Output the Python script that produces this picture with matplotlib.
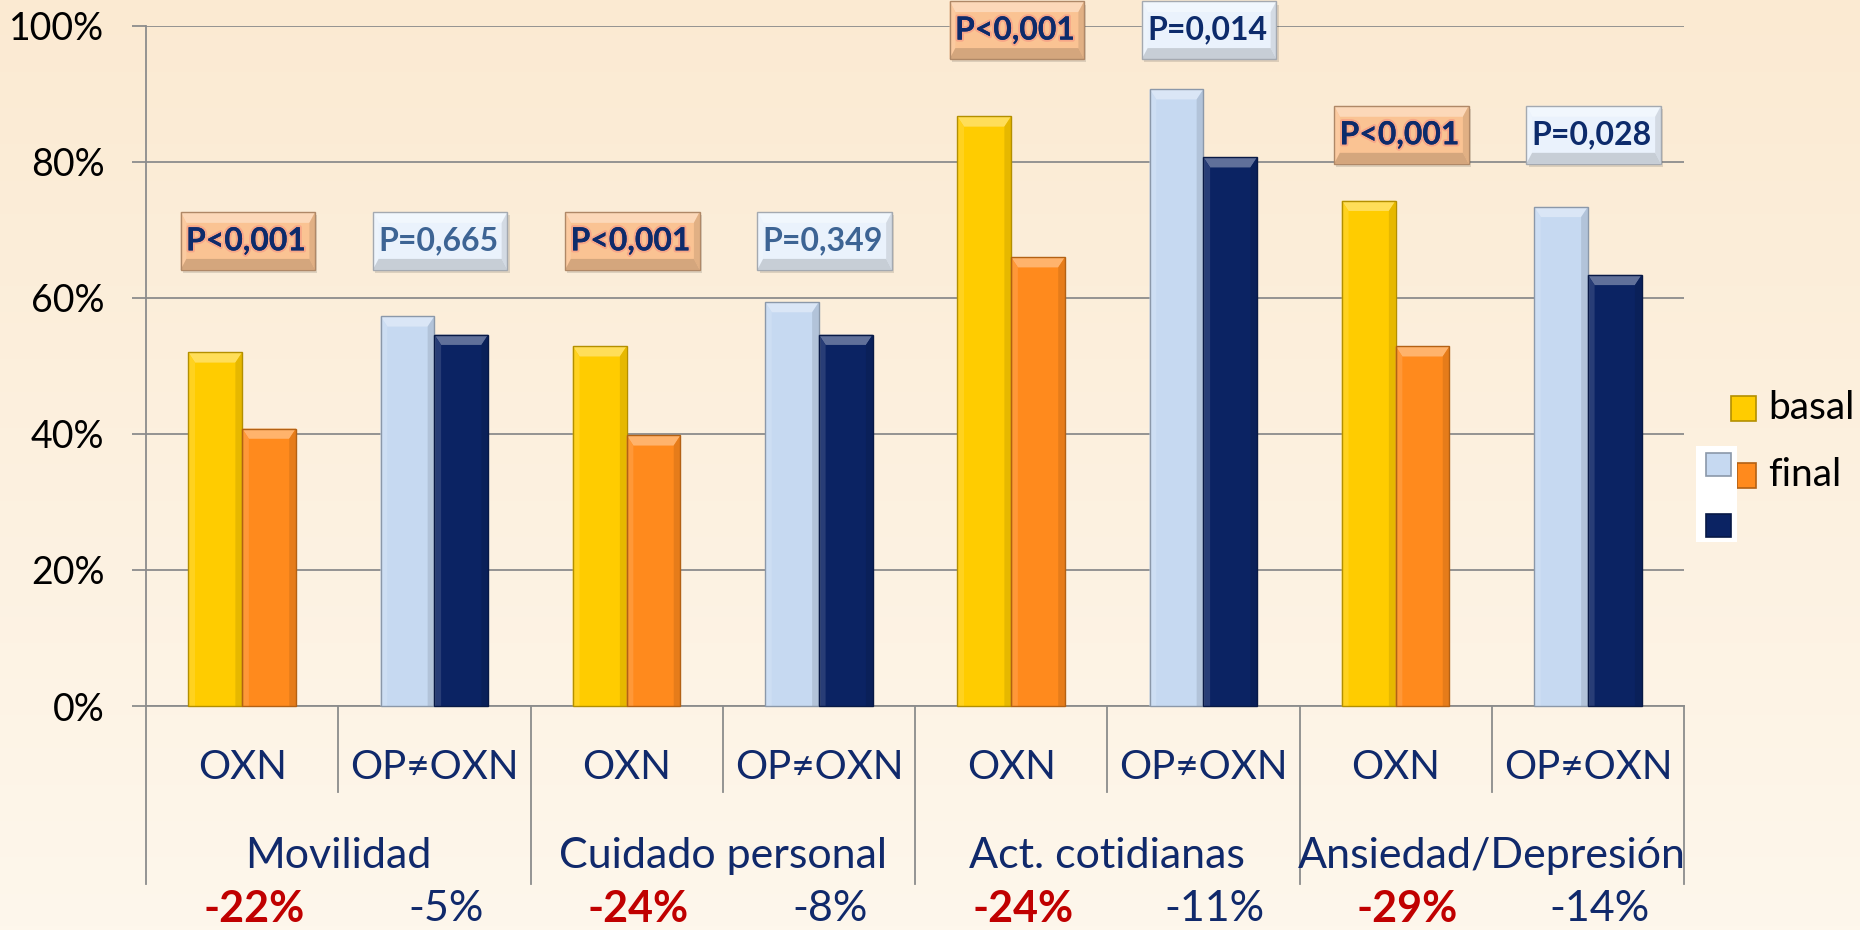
import numpy as np
import matplotlib.pyplot as plt
import matplotlib.colors as mcolors
import matplotlib.patheffects as pe
from matplotlib.patches import Rectangle, Polygon

# data
subgroups = ['OXN', 'OP≠OXN'] * 4
categories = ['Movilidad', 'Cuidado personal', 'Act. cotidianas', 'Ansiedad/Depresión']
basal = [52.0, 57.3, 52.9, 59.4, 86.7, 90.7, 74.3, 73.4]
final = [40.8, 54.6, 39.8, 54.6, 66.0, 80.7, 52.9, 63.4]
changes = ['-22%', '-5%', '-24%', '-8%', '-24%', '-11%', '-29%', '-14%']
p_values = ['P<0,001', 'P=0,665', 'P<0,001', 'P=0,349',
            'P<0,001', 'P=0,014', 'P<0,001', 'P=0,028']
yticks = [0, 20, 40, 60, 80, 100]

# styling
main_font = ['Lato', 'DejaVu Sans']
navy_txt = '#10296B'
red_txt = '#C00000'
grid_c = '#8C8C8C'
oxn_cols = ('#FFCC00', '#FF8A1D')
op_cols = ('#C6D9F1', '#0B2363')
box_y = [68.4, 68.4, 68.4, 68.4, 99.4, 99.4, 84.0, 84.0]


def mix(c, other, t):
    a = np.array(mcolors.to_rgb(c))
    b = np.array(mcolors.to_rgb(other))
    return tuple(a * (1 - t) + b * t)


def bevel_rect(ax, x0, y0, w, h, color, dx, dy, z, bottom=False, edge=None):
    edge = edge or mix(color, 'black', 0.3)
    ax.add_patch(Rectangle((x0, y0), w, h, facecolor=color, lw=0, zorder=z, clip_on=False))
    x1, y1 = x0 + w, y0 + h
    ybot = y0 + dy if bottom else y0
    ax.add_patch(Polygon([(x0, y1), (x1, y1), (x1 - dx, y1 - dy), (x0 + dx, y1 - dy)],
                         closed=True, facecolor=mix(color, 'white', 0.35), lw=0, zorder=z + 0.1, clip_on=False))
    ax.add_patch(Polygon([(x0, y0), (x0, y1), (x0 + dx, y1 - dy), (x0 + dx, ybot)],
                         closed=True, facecolor=mix(color, 'white', 0.12), lw=0, zorder=z + 0.1, clip_on=False))
    ax.add_patch(Polygon([(x1, y0), (x1, y1), (x1 - dx, y1 - dy), (x1 - dx, ybot)],
                         closed=True, facecolor=mix(color, 'black', 0.10), lw=0, zorder=z + 0.1, clip_on=False))
    if bottom:
        ax.add_patch(Polygon([(x0, y0), (x1, y0), (x1 - dx, y0 + dy), (x0 + dx, y0 + dy)],
                             closed=True, facecolor=mix(color, 'black', 0.15), lw=0, zorder=z + 0.1, clip_on=False))
    ax.add_patch(Rectangle((x0, y0), w, h, facecolor='none', edgecolor=edge,
                           lw=1.0, zorder=z + 0.2, clip_on=False))


fig = plt.figure(figsize=(18.6, 9.3), dpi=100)

# background gradient
bg = fig.add_axes([0, 0, 1, 1], zorder=-10)
grad = np.linspace(0, 1, 256).reshape(-1, 1)
cmap = mcolors.LinearSegmentedColormap.from_list('bg', ['#FBEAD2', '#FEF7EC'])
bg.imshow(grad, aspect='auto', cmap=cmap, extent=[0, 1, 0, 1])
bg.axis('off')

ax = fig.add_axes([146 / 1860, 1 - 706 / 930, (1684 - 146) / 1860, 680 / 930])
ax.set_facecolor('none')
ax.set_xlim(-0.5, 7.5)
ax.set_ylim(0, 100)

x = np.arange(len(subgroups))
w = 0.28
for i in range(len(x)):
    cols = oxn_cols if i % 2 == 0 else op_cols
    bevel_rect(ax, x[i] - w, 0, w, basal[i], cols[0], 0.035, 1.5, 3)
    bevel_rect(ax, x[i], 0, w, final[i], cols[1], 0.035, 1.5, 3)

# grid and axis
for s in ax.spines.values():
    s.set_visible(False)
ax.set_yticks(yticks)
ax.set_yticklabels([f'{v}%' for v in yticks], fontsize=27, family=main_font)
ax.yaxis.grid(True, color=grid_c, lw=1.3)
ax.set_axisbelow(True)
ax.tick_params(axis='y', length=10, width=1.3, color=grid_c, pad=20)
ax.set_xticks([])
ax.axhline(0, color=grid_c, lw=1.3, zorder=2, clip_on=False)

tr = ax.get_xaxis_transform()
for b in np.arange(-0.5, 8, 1):
    long = (b + 0.5) % 2 == 0
    ax.plot([b, b], [1.0 if b == -0.5 else 0, -0.262 if long else -0.126],
            color=grid_c, lw=1.3, transform=tr, clip_on=False, zorder=2)

# bottom labels
for i, lab in enumerate(subgroups):
    ax.text(x[i], -0.091, lab, transform=tr, ha='center', va='center',
            fontsize=29, color=navy_txt, family=main_font)
    if i % 2 == 0:
        ax.text(x[i] + 0.06, -0.298, changes[i], transform=tr, ha='center', va='center',
                fontsize=31, color=red_txt, fontweight='bold', family=main_font)
    else:
        ax.text(x[i] + 0.06, -0.298, changes[i], transform=tr, ha='center', va='center',
                fontsize=31, color=navy_txt, family=main_font)
for j, cat in enumerate(categories):
    ax.text(2 * j + 0.5, -0.22, cat, transform=tr, ha='center', va='center',
            fontsize=31, color=navy_txt, family=main_font)

# p-value boxes
bw, bh = 0.70, 8.5
for i, p in enumerate(p_values):
    cx = x[i] + 0.03
    if i % 2 == 0:
        fc, tc = '#FAC393', '#0D2B6B'
        effects = [pe.withStroke(linewidth=3, foreground='#F5907F', alpha=0.55), pe.Normal()]
    else:
        fc = '#EAF2FC'
        tc = '#3D6494' if i in (1, 3) else '#0D2B6B'
        effects = None
    ax.add_patch(Rectangle((cx - bw / 2 + 0.012, box_y[i] - bh / 2 - 0.5), bw, bh, facecolor='#000000',
                           alpha=0.12, lw=0, zorder=4, clip_on=False))
    bevel_rect(ax, cx - bw / 2, box_y[i] - bh / 2, bw, bh, fc, 0.03, 1.6, 5, bottom=True,
               edge=mix(fc, 'black', 0.3))
    t = ax.text(cx - 0.01, box_y[i], p, ha='center', va='center', fontsize=23, fontweight='bold',
                color=tc, family=main_font, zorder=7, clip_on=False)
    if effects:
        t.set_path_effects(effects)


# legend (figure pixel coordinates)
def px(xp, yp):
    return xp / 1860, 1 - yp / 930


def fig_square(x0, y0, x1, y1, color, z=5):
    a, b = px(x0, y1)
    fig.add_artist(Rectangle((a, b), (x1 - x0) / 1860, (y1 - y0) / 930, facecolor=color,
                             edgecolor=mix(color, 'black', 0.3), lw=1.2, transform=fig.transFigure, zorder=z))


fig_square(1731, 396, 1756, 421, oxn_cols[0])
fig_square(1737, 463, 1756, 488, oxn_cols[1])
fig.text(*px(1768, 408), 'basal', fontsize=28, va='center', ha='left', family=main_font)
fig.text(*px(1768, 475), 'final', fontsize=28, va='center', ha='left', family=main_font)
a, b = px(1696, 542)
fig.add_artist(Rectangle((a, b), 41 / 1860, 96 / 930, facecolor='white', lw=0,
                         transform=fig.transFigure, zorder=6))
fig_square(1706, 453, 1731, 476, op_cols[0], z=7)
fig_square(1706, 514, 1731, 537, op_cols[1], z=7)

fig.savefig('out.png', dpi=100)
